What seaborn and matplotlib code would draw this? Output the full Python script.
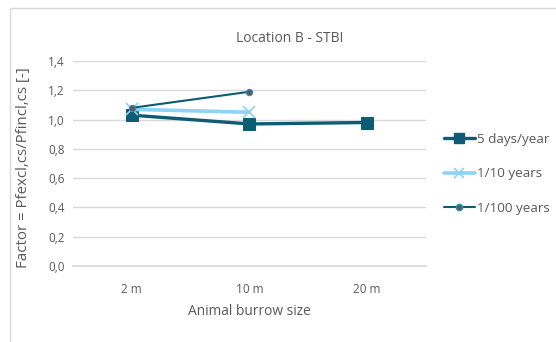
import numpy as np
import pandas as pd
import matplotlib
matplotlib.use("Agg")
import matplotlib.pyplot as plt
import matplotlib.ticker as mticker
from matplotlib.lines import Line2D
from matplotlib.patches import Rectangle
import seaborn as sns

# ── Data ──────────────────────────────────────────────────
sizes = ["2 m", "10 m", "20 m"]
days5 = [1.03, 0.97, 0.98]
sizes_short = ["2 m", "10 m"]
years10 = [1.07, 1.05]
years100 = [1.08, 1.19]
yticks = [0.0, 0.2, 0.4, 0.6, 0.8, 1.0, 1.2, 1.4]

DARK = "#0D5C73"
LIGHT = "#8ED2F5"
GRAY_TXT = "#595959"
GRID = "#D9D9D9"

sns.set_theme(style="white")
plt.rcParams["font.family"] = ["Open Sans", "DejaVu Sans"]

fig = plt.figure(figsize=(5.56, 3.42), dpi=100)
ax = fig.add_axes([73 / 556, 1 - 266 / 342, (426 - 73) / 556, (266 - 61) / 342])

# chart frame
fig.patches.append(Rectangle((10 / 556, -0.02), 0.99, 1 - 8 / 342 + 0.02,
                             transform=fig.transFigure, fill=False,
                             edgecolor=GRID, linewidth=1.0))

df5 = pd.DataFrame({"size": sizes, "factor": days5})
df10 = pd.DataFrame({"size": sizes_short, "factor": years10})
df100 = pd.DataFrame({"size": sizes_short, "factor": years100})

sns.lineplot(data=df5, x="size", y="factor", ax=ax, color=DARK, linewidth=2.4,
             marker="s", markersize=8, markeredgecolor=DARK, zorder=3)
sns.lineplot(data=df10, x="size", y="factor", ax=ax, color=LIGHT, linewidth=2.6,
             marker="x", markersize=8, markeredgewidth=1.2, markeredgecolor=LIGHT, zorder=4)
sns.lineplot(data=df100, x="size", y="factor", ax=ax, color=DARK, linewidth=1.5,
             marker="o", markersize=4.5, markerfacecolor="#5A5A5A",
             markeredgecolor="#2E8BC0", markeredgewidth=0.8, zorder=5)

ax.set_xlim(-0.5, 2.5)
ax.set_ylim(0, 1.4)
ax.set_yticks(yticks)
ax.yaxis.set_major_formatter(mticker.FuncFormatter(lambda v, _: f"{v:.1f}".replace(".", ",")))
ax.grid(axis="y", color=GRID, linewidth=1.0)
ax.grid(axis="x", visible=False)
for s in ["left", "right", "top"]:
    ax.spines[s].set_visible(False)
ax.spines["bottom"].set_color(GRID)
ax.tick_params(axis="both", length=0, labelsize=8.5, labelcolor=GRAY_TXT, pad=12)
ax.tick_params(axis="y", pad=6)

ax.set_xlabel("Animal burrow size", fontsize=9.9, color=GRAY_TXT, labelpad=6)
ax.set_ylabel("Factor = Pfexcl,cs/Pfincl,cs [-]", fontsize=10.8, color=GRAY_TXT, labelpad=4)
ax.yaxis.set_label_coords(-0.12, 0.48)
fig.text(290 / 556, 1 - 38 / 342, "Location B - STBI", ha="center", va="center",
         fontsize=10, color=GRAY_TXT)

handles = [
    Line2D([], [], color=DARK, linewidth=2.4, marker="s", markersize=7),
    Line2D([], [], color=LIGHT, linewidth=2.6, marker="x", markersize=7, markeredgewidth=1.2),
    Line2D([], [], color=DARK, linewidth=1.5, marker="o", markersize=4.5,
           markerfacecolor="#5A5A5A", markeredgecolor="#2E8BC0"),
]
fig.legend(handles, ["5 days/year", "1/10 years", "1/100 years"],
           loc="center left", bbox_to_anchor=(437 / 556, 1 - 174 / 342),
           frameon=False, fontsize=9.7, labelcolor=GRAY_TXT, borderpad=0,
           handlelength=2.3, handletextpad=0.2, labelspacing=1.6)

fig.savefig("out.png", dpi=100)
